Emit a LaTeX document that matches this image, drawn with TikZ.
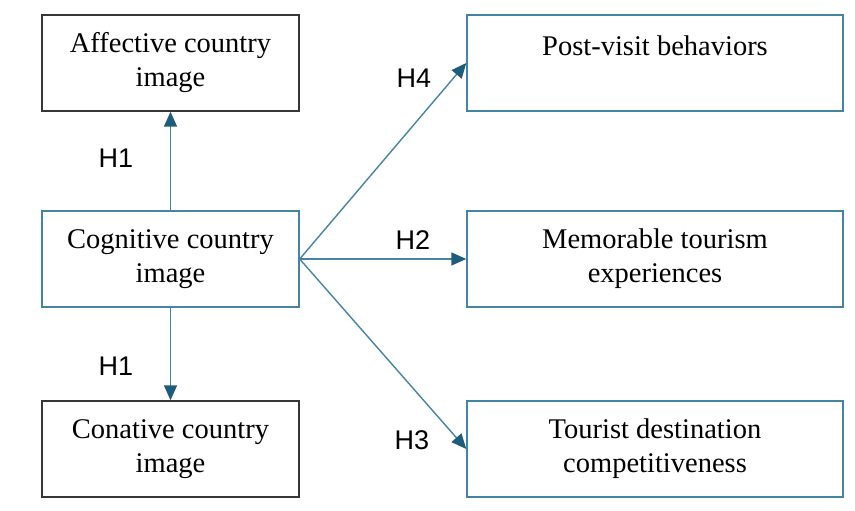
\documentclass[tikz,border=0pt]{standalone}
\usepackage{fontspec}
\setmainfont{Liberation Serif}
\newfontfamily\labelfont{Liberation Sans}
\usetikzlibrary{arrows.meta}
\definecolor{boxblue}{RGB}{68,132,162}
\definecolor{tipblue}{RGB}{28,92,124}
\definecolor{boxgray}{RGB}{55,55,55}

\begin{document}
\begin{tikzpicture}
[every node/.style={inner sep=0pt},
 smallbox/.style={rectangle, minimum width=257pt, minimum height=96pt, line width=1.4pt, align=center, font=\fontsize{28.5}{34}\selectfont},
 bigbox/.style={rectangle, minimum width=376pt, minimum height=96pt, line width=1.4pt, align=center, draw=boxblue, font=\fontsize{28.5}{34}\selectfont},
 hlabel/.style={font=\labelfont\fontsize{27}{30}\selectfont},
 link/.style={line width=1.4pt, color=boxblue, -{Triangle[length=15pt, width=13pt, color=tipblue]}}]
\useasboundingbox (0pt, 0pt) rectangle (855pt, -511pt);
\node (aff) [smallbox, draw=boxgray] at (170.5pt, -63pt) {Affective country\\image};
\node (cog) [smallbox, draw=boxblue] at (170.5pt, -259pt) {Cognitive country\\image};
\node (con) [smallbox, draw=boxgray] at (170.5pt, -449pt) {Conative country\\image};
\node (post) [bigbox] at (655pt, -63pt) {Post-visit behaviors\\\mbox{}};
\node (mem) [bigbox] at (655pt, -259pt) {Memorable tourism\\experiences};
\node (tour) [bigbox] at (655pt, -449pt) {Tourist destination\\competitiveness};
\node (h1a) [hlabel] at (116pt, -158pt) {H1};
\node (h1b) [hlabel] at (116pt, -366pt) {H1};
\node (h4) [hlabel] at (414pt, -78pt) {H4};
\node (h2) [hlabel] at (413pt, -240pt) {H2};
\node (h3) [hlabel] at (412pt, -440pt) {H3};
\draw [link] (cog) to (aff);
\draw [link] (cog) to (con);
\draw [link] (cog.east) to (post.west);
\draw [link] (cog.east) to (mem.west);
\draw [link] (cog.east) to (tour.west);
\end{tikzpicture}
\end{document}
